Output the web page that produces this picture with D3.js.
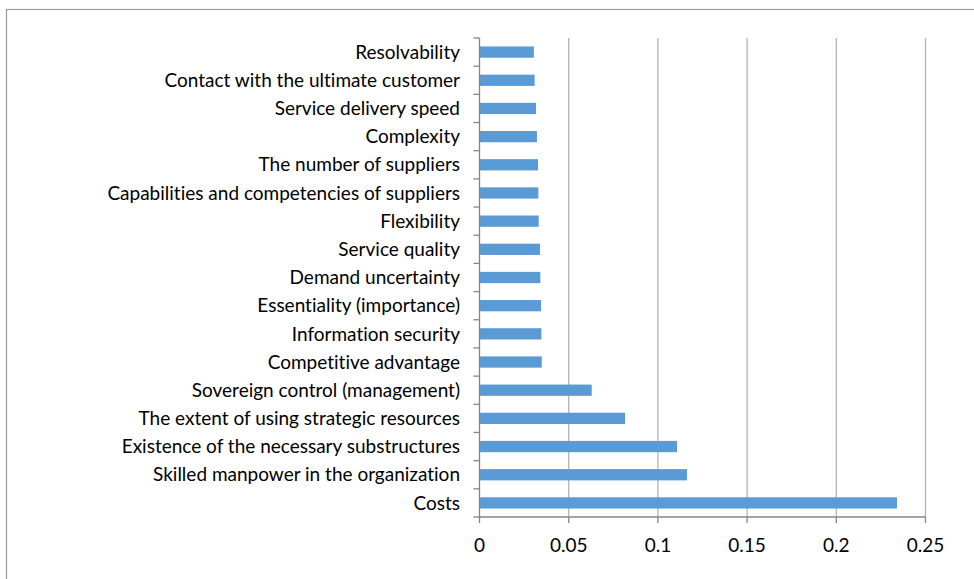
<!DOCTYPE html>
<html>
<head>
<meta charset="utf-8">
<script src="https://cdn.jsdelivr.net/npm/d3@7"></script>
<style>
  body { margin: 0; background: #fff; }
  svg text { font-family: Lato, "Open Sans", sans-serif; fill: #000; font-variant-ligatures: none; }
</style>
</head>
<body>
<svg id="chart" width="974" height="579"></svg>
<script>
// factors from top to bottom
let categories = [
    "Resolvability",
    "Contact with the ultimate customer",
    "Service delivery speed",
    "Complexity",
    "The number of suppliers",
    "Capabilities and competencies of suppliers",
    "Flexibility",
    "Service quality",
    "Demand uncertainty",
    "Essentiality (importance)",
    "Information security",
    "Competitive advantage",
    "Sovereign control (management)",
    "The extent of using strategic resources",
    "Existence of the necessary substructures",
    "Skilled manpower in the organization",
    "Costs"
];
let weights = [0.0305, 0.0309, 0.0317, 0.0322, 0.0328, 0.0330, 0.0332, 0.0339, 0.0341,
    0.0345, 0.0347, 0.0349, 0.0629, 0.0816, 0.1107, 0.1163, 0.2340];
let xTicks = [0, 0.05, 0.1, 0.15, 0.2, 0.25];
let xTickLabels = ["0", "0.05", "0.1", "0.15", "0.2", "0.25"];

let svg = d3.select('#chart'),
    plotLeft = 479.5, plotRight = 925.5, plotTop = 38, plotBottom = 517;

// outer chart frame
svg.append('rect')
    .attr('x', 6.5).attr('y', 9.5)
    .attr('width', 990).attr('height', 600)
    .attr('fill', 'none').attr('stroke', '#999').attr('stroke-width', 1.2);

let x = d3.scaleLinear().domain([0, 0.25]).range([plotLeft, plotRight]);
let y = d3.scaleBand().domain(categories).range([plotTop, plotBottom]).paddingInner(0.6).paddingOuter(0.3);
let yb = d3.scaleBand().domain(categories).range([plotTop, plotBottom]);

// gridlines
svg.append('g').selectAll('line').data(xTicks.slice(1))
    .enter().append('line')
    .attr('x1', d => x(d)).attr('x2', d => x(d))
    .attr('y1', plotTop).attr('y2', plotBottom)
    .attr('stroke', '#b3b3b3').attr('stroke-width', 1.3);

// bars
svg.append('g').selectAll('rect').data(weights)
    .enter().append('rect')
    .attr('x', x(0))
    .attr('y', (d, i) => y(categories[i]))
    .attr('width', d => x(d) - x(0))
    .attr('height', y.bandwidth())
    .attr('fill', '#5b9bd5');

// y axis
let yAxis = svg.append('g');
yAxis.append('line')
    .attr('x1', plotLeft).attr('x2', plotLeft).attr('y1', plotTop).attr('y2', plotBottom)
    .attr('stroke', '#868686').attr('stroke-width', 1.3);
yAxis.selectAll('.tick').data(d3.range(categories.length + 1))
    .enter().append('line')
    .attr('x1', plotLeft - 6).attr('x2', plotLeft)
    .attr('y1', i => plotTop + i * yb.step()).attr('y2', i => plotTop + i * yb.step())
    .attr('stroke', '#868686').attr('stroke-width', 1.3);
yAxis.selectAll('text').data(categories)
    .enter().append('text')
    .attr('x', 460)
    .attr('y', d => yb(d) + yb.bandwidth() / 2)
    .attr('dy', '0.35em')
    .attr('text-anchor', 'end')
    .attr('font-size', 19)
    .text(d => d);

// x axis
let xAxis = svg.append('g');
xAxis.append('line')
    .attr('x1', plotLeft).attr('x2', plotRight).attr('y1', plotBottom).attr('y2', plotBottom)
    .attr('stroke', '#868686').attr('stroke-width', 1.3);
xAxis.selectAll('.tick').data(xTicks)
    .enter().append('line')
    .attr('x1', d => x(d)).attr('x2', d => x(d))
    .attr('y1', plotBottom).attr('y2', plotBottom + 6)
    .attr('stroke', '#868686').attr('stroke-width', 1.3);
xAxis.selectAll('text').data(xTicks)
    .enter().append('text')
    .attr('x', d => x(d))
    .attr('y', 552)
    .attr('text-anchor', 'middle')
    .attr('font-size', 19)
    .text((d, i) => xTickLabels[i]);
</script>
</body>
</html>
